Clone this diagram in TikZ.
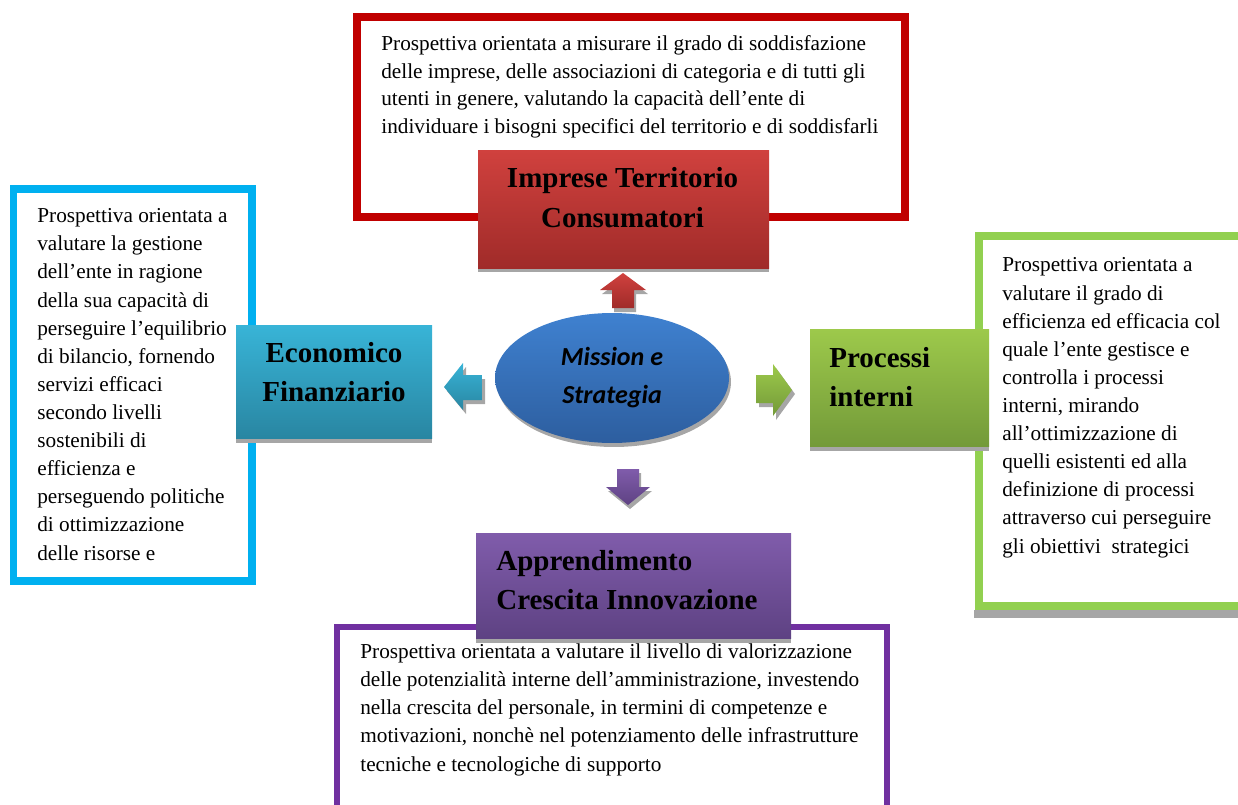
\documentclass[tikz,border=0pt]{standalone}
\usepackage{fontspec}
\setmainfont{Liberation Serif}
\newfontfamily\missionfont{Carlito}
\usepackage{tikz}
\usetikzlibrary{shapes.geometric}

\definecolor{redframe}{HTML}{C00000}
\definecolor{redtop}{HTML}{D0413E}
\definecolor{redbot}{HTML}{A02B29}
\definecolor{blueframe}{HTML}{00B0F0}
\definecolor{bluetop}{HTML}{38B4D7}
\definecolor{bluebot}{HTML}{2986A2}
\definecolor{greenframe}{HTML}{92D050}
\definecolor{greentop}{HTML}{9DC94B}
\definecolor{greenbot}{HTML}{739A39}
\definecolor{purpleframe}{HTML}{7030A0}
\definecolor{purpletop}{HTML}{805CAB}
\definecolor{purplebot}{HTML}{5E4283}
\definecolor{missiontop}{HTML}{3F81D0}
\definecolor{missionbot}{HTML}{2D5E9F}
\definecolor{shadowgray}{HTML}{A6A6A6}

\tikzset{
  frame/.style={line width=0.16cm, line join=miter},
  bodytext/.style={inner sep=0pt, align=left, anchor=base west,
    font=\fontsize{12.1}{16}\selectfont},
  headtext/.style={inner sep=0pt, font=\fontsize{16.5}{22.2}\selectfont\bfseries},
}

\begin{document}
\begin{tikzpicture}[x=0.02cm, y=-0.02cm]
    \useasboundingbox (0,0) rectangle (1238,805);
    \clip (0,0) rectangle (1238,805);

    % outer frames
    \draw[frame, redframe] (357,17) rectangle (905,217);
    \draw[frame, blueframe] (13.5,189) rectangle (252,581);
    \fill[shadowgray] (974,610) rectangle (1250,618);
    \draw[frame, greenframe] (978.5,236) rectangle (1260,606);
    \draw[frame, purpleframe, line width=0.12cm] (337,627) rectangle (887,840);

    % descriptions (anchored on the baseline of the last line)
    \node[bodytext, font=\fontsize{12.1}{15.65}\selectfont] (impDesc) at (381,133) {Prospettiva orientata a misurare il grado di soddisfazione\\
        delle imprese, delle associazioni di categoria e di tutti gli\\
        utenti in genere, valutando la capacità dell’ente di\\
        individuare i bisogni specifici del territorio e di soddisfarli};
    \node[bodytext] (ecoDesc) at (37,560) {Prospettiva orientata a\\
        valutare la gestione\\
        dell’ente in ragione\\
        della sua capacità di\\
        perseguire l’equilibrio\\
        di bilancio, fornendo\\
        servizi efficaci\\
        secondo livelli\\
        sostenibili di\\
        efficienza e\\
        perseguendo politiche\\
        di ottimizzazione\\
        delle risorse e};
    \node[bodytext] (procDesc) at (1002,553) {Prospettiva orientata a\\
        valutare il grado di\\
        efficienza ed efficacia col\\
        quale l’ente gestisce e\\
        controlla i processi\\
        interni, mirando\\
        all’ottimizzazione di\\
        quelli esistenti ed alla\\
        definizione di processi\\
        attraverso cui perseguire\\
        gli obiettivi~ strategici};
    \node[bodytext] (appDesc) at (360,771) {Prospettiva orientata a valutare il livello di valorizzazione\\
        delle potenzialità interne dell’amministrazione, investendo\\
        nella crescita del personale, in termini di competenze e\\
        motivazioni, nonchè nel potenziamento delle infrastrutture\\
        tecniche e tecnologiche di supporto};

    % headers
    \fill[shadowgray] (478,155) rectangle (769,272);
    \shade[top color=redtop, bottom color=redbot] (478,150) rectangle (769,268);
    \node[headtext, align=center, anchor=base] (impHead) at (622.5,227) {Imprese Territorio\\Consumatori};

    \fill[shadowgray] (236,330) rectangle (432,443);
    \shade[top color=bluetop, bottom color=bluebot] (236,325) rectangle (432,438);
    \node[headtext, align=center, anchor=base] (ecoHead) at (334,401) {Economico\\Finanziario};

    \fill[shadowgray] (810,334) rectangle (989,451);
    \shade[top color=greentop, bottom color=greenbot] (810,329) rectangle (989,446);
    \node[headtext, align=left, anchor=base west] (procHead) at (829,406) {Processi\\interni};

    \fill[shadowgray] (476,538) rectangle (791,643);
    \shade[top color=purpletop, bottom color=purplebot] (476,533) rectangle (791,638);
    \node[headtext, align=left, anchor=base west] (appHead) at (496,609) {Apprendimento\\Crescita Innovazione};

    % centre
    \node[ellipse, fill=shadowgray, minimum width=4.68cm, minimum height=2.6cm] (missionShadow) at (614,382) {};
    \node[ellipse, top color=missiontop, bottom color=missionbot, minimum width=4.68cm, minimum height=2.6cm] (mission) at (612,378) {};
    \node[align=center, anchor=base, inner sep=0pt, font=\missionfont\fontsize{14.8}{21.6}\selectfont\bfseries\itshape] (missionText) at (612,403) {Mission e\\Strategia};

    % block arrows
    \fill[shadowgray, shift={(2,4)}] (612,308) -- (612,290) -- (600,290) -- (623,273) -- (646,290) -- (634,290) -- (634,308) -- cycle;
    \shade[top color=redtop, bottom color=redbot] (612,308) -- (612,290) -- (600,290) -- (623,273) -- (646,290) -- (634,290) -- (634,308) -- cycle;
    \fill[shadowgray, shift={(3,4)}] (482,375) -- (463,375) -- (463,363) -- (444,387) -- (463,410) -- (463,400) -- (482,400) -- cycle;
    \shade[top color=bluetop, bottom color=bluebot] (482,375) -- (463,375) -- (463,363) -- (444,387) -- (463,410) -- (463,400) -- (482,400) -- cycle;
    \fill[shadowgray, shift={(3,4)}] (756,375) -- (773,375) -- (773,364) -- (792,390) -- (773,416) -- (773,403) -- (756,403) -- cycle;
    \shade[top color=greentop, bottom color=greenbot] (756,375) -- (773,375) -- (773,364) -- (792,390) -- (773,416) -- (773,403) -- (756,403) -- cycle;
    \fill[shadowgray, shift={(2,4)}] (617,469) -- (639,469) -- (639,487) -- (650,487) -- (628,505) -- (606,487) -- (617,487) -- cycle;
    \shade[top color=purpletop, bottom color=purplebot] (617,469) -- (639,469) -- (639,487) -- (650,487) -- (628,505) -- (606,487) -- (617,487) -- cycle;
\end{tikzpicture}
\end{document}
